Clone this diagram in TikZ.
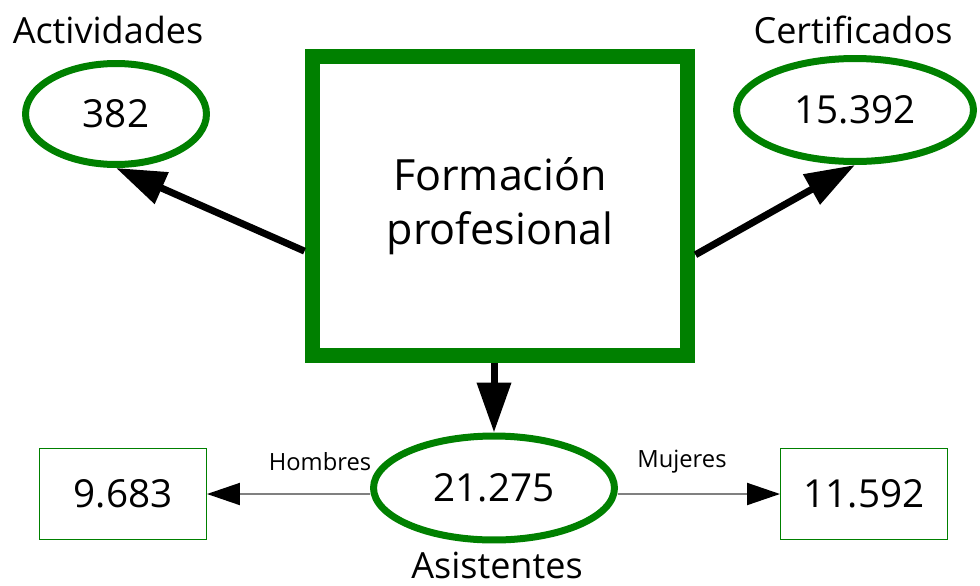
\documentclass[tikz,border=0pt]{standalone}
\usepackage{fontspec}
\setmainfont{Open Sans}
\usetikzlibrary{positioning,shapes,arrows.meta}

\begin{document}
\begin{tikzpicture}[x=0.02cm,y=-0.02cm]
    \tikzstyle{every node} = [inner sep=0pt]
    \tikzstyle{dato} = [draw=green!50!black, line width=0.14cm, shape=ellipse, font=\fontsize{22}{26}\selectfont]
    \tikzstyle{caja} = [draw=green!50!black, line width=0.02cm, shape=rectangle, minimum width=3.34cm, minimum height=1.82cm, font=\fontsize{22}{26}\selectfont]
    \tikzstyle{titulo} = [font=\fontsize{20.5}{24}\selectfont]
    \tikzstyle{gruesa} = [-{Triangle[length=1cm,width=0.66cm]}, line width=0.14cm]
    \tikzstyle{fina} = [-{Triangle[length=0.66cm,width=0.44cm,color=black]}, line width=0.04cm, draw=gray]
    \useasboundingbox (0,0) rectangle (980,585);

    \node[draw=green!50!black, line width=0.3cm, minimum width=7.52cm, minimum height=6cm,
          align=center, font=\fontsize{24.5}{31}\selectfont] (FP) at (500,206) {Formación\\profesional};

    \node[dato, minimum width=3.62cm, minimum height=2.02cm] (ACT) at (116,114) {382};
    \node[dato, minimum width=4.74cm, minimum height=2.06cm] (CERT) at (855,110) {15.392};
    \node[dato, minimum width=4.82cm, minimum height=2.08cm] (ASIS) at (494,488) {21.275};
    \node[caja] (HOM) at (123,494) {9.683};
    \node[caja] (MUJ) at (864,494) {11.592};

    \node[titulo] (tACT) at (108,30) {Actividades};
    \node[titulo] (tCERT) at (853,30) {Certificados};
    \node[titulo] (tASIS) at (497,565) {Asistentes};
    \node[font=\fontsize{13.5}{16}\selectfont] (lHOM) at (320,462) {Hombres};
    \node[font=\fontsize{13.5}{16}\selectfont] (lMUJ) at (682,462) {Mujeres};

    \draw [gruesa] (FP.193) -- (ACT.south);
    \draw [gruesa] (FP.-14) -- (CERT.south);
    \draw [gruesa] (FP.south -| ASIS.north) -- (ASIS.north);
    \draw [fina] (HOM.east -| ASIS.west) -- (HOM.east);
    \draw [fina] (MUJ.west -| ASIS.east) -- (MUJ.west);

\end{tikzpicture}
\end{document}
